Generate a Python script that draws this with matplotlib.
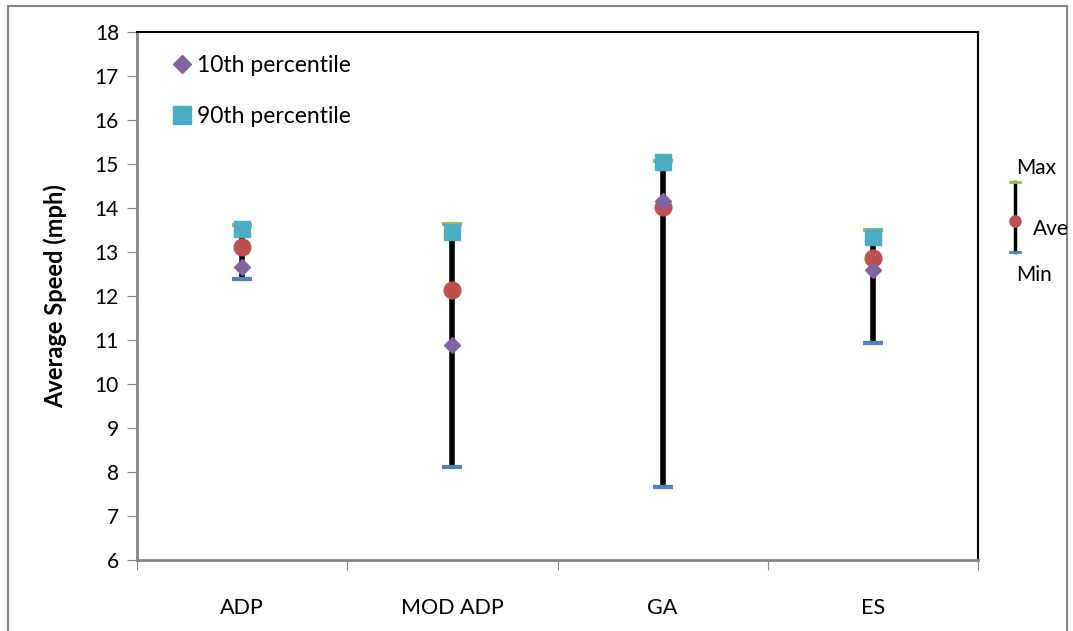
import matplotlib.pyplot as plt
from matplotlib.lines import Line2D
from matplotlib.patches import Rectangle
import numpy as np

categories = ['ADP', 'MOD ADP', 'GA', 'ES']
max_speed = [13.61, 13.63, 15.07, 13.50]
p90_speed = [13.52, 13.45, 15.05, 13.34]
avg_speed = [13.11, 12.14, 14.02, 12.86]
p10_speed = [12.66, 10.89, 14.16, 12.59]
min_speed = [12.39, 8.11, 7.66, 10.93]

plt.rcParams['font.family'] = ['Lato', 'DejaVu Sans']

fig = plt.figure(figsize=(10.73, 6.31), dpi=100)
ax = fig.add_axes([137/1073, 1 - 560/631, (978 - 137)/1073, (560 - 32)/631])

x = np.arange(len(categories)) + 0.5

# min-max bars
ax.vlines(x, min_speed, max_speed, color='black', lw=4, zorder=2)
ax.plot(x, max_speed, linestyle='none', marker='_', ms=15, mew=3, color='#9bbb59', zorder=3)
ax.plot(x, min_speed, linestyle='none', marker='_', ms=15, mew=3, color='#4f81bd', zorder=3)
ax.plot(x, p90_speed, linestyle='none', marker='s', ms=11, color='#4bacc6', zorder=4,
        label='90th percentile')
ax.plot(x, avg_speed, linestyle='none', marker='o', ms=12, color='#c0504d', zorder=5)
ax.plot(x, p10_speed, linestyle='none', marker='D', ms=8, color='#8064a2', zorder=6,
        label='10th percentile')

ax.set_xlim(0, 4)
ax.set_ylim(6, 18)
ax.set_yticks(range(6, 19))
ax.set_xticks([0, 1, 2, 3, 4])
ax.set_xticklabels([])
ax.set_xticks(x, minor=True)
ax.set_xticklabels(categories, minor=True, fontsize=15.5)
ax.tick_params(axis='x', which='minor', length=0, pad=27)
ax.tick_params(axis='x', which='major', length=7, color='#868686', direction='out')
ax.tick_params(axis='y', length=7, color='#868686', labelsize=15, pad=6)
ax.set_ylabel('Average Speed (mph)', fontsize=17, fontweight='bold', labelpad=20)

for s in ['left', 'bottom']:
    ax.spines[s].set_color('#868686')
    ax.spines[s].set_linewidth(2)
for s in ['top', 'right']:
    ax.spines[s].set_color('black')
    ax.spines[s].set_linewidth(1.5)

h, l = ax.get_legend_handles_labels()
leg = ax.legend(h[::-1], l[::-1], loc='upper left', bbox_to_anchor=(0.015, 0.995), frameon=False,
                fontsize=16.5, handletextpad=0.15, handlelength=1.0, labelspacing=1.3,
                markerscale=1.15)

# side legend graphic (Max / Ave / Min)
fig.text(1016/1073, 1 - 168/631, 'Max', fontsize=15, va='center')
fig.text(1033/1073, 1 - 229/631, 'Ave', fontsize=15, va='center')
fig.text(1016/1073, 1 - 275/631, 'Min', fontsize=15, va='center')
lx = 1015/1073
fig.add_artist(Line2D([lx, lx], [1 - 182/631, 1 - 252/631], color='black', lw=2.5))
fig.add_artist(Line2D([lx - 5/1073, lx + 5/1073], [1 - 182/631] * 2, color='#9bbb59', lw=2))
fig.add_artist(Line2D([lx - 5/1073, lx + 5/1073], [1 - 252/631] * 2, color='#4f81bd', lw=2))
fig.add_artist(Line2D([lx], [1 - 221/631], marker='o', ms=8, color='#c0504d'))

# outer chart frame
fig.add_artist(Rectangle((8/1073, -0.01), 1059/1073, 1.0, transform=fig.transFigure,
                         fill=False, edgecolor='#868686', lw=1.5))

fig.savefig('out.png', dpi=100)
